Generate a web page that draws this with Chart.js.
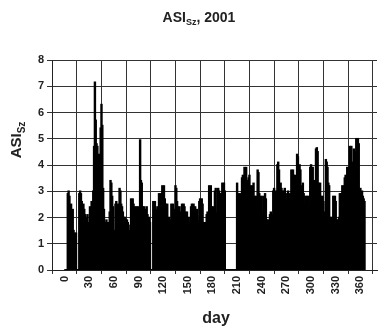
<!DOCTYPE html>
<html><head><meta charset="utf-8">
<script src="https://cdn.jsdelivr.net/npm/chart.js@4.4.1/dist/chart.umd.min.js"></script>
<style>html,body{margin:0;padding:0;background:#fff}#c{display:block}</style>
</head><body>
<canvas id="c" width="378" height="327"></canvas>
<script>
const values = [
0,0,0,2.9,3.0,2.8,2.4,2.5,2.2,2.3,1.5,1.4,1.3,1.4,0,0,0,2.9,3.0,2.9,
2.6,2.2,2.5,2.3,2.1,2.0,1.9,2.1,1.5,1.8,2.4,2.2,2.6,2.4,3.0,4.7,7.15,5.7,4.8,4.7,
3.6,4.4,3.0,5.4,6.3,5.5,3.1,2.3,1.8,1.7,1.9,1.8,1.7,1.8,2.2,3.4,3.3,2.8,2.4,1.4,
1.5,2.5,2.6,2.4,2.5,2.2,3.1,3.0,2.5,2.4,2.2,2.0,1.9,2.0,1.8,1.9,1.8,1.7,1.4,1.5,
2.7,2.6,2.7,2.5,2.3,2.4,2.3,2.4,2.2,2.4,2.3,4.95,3.4,3.3,2.4,2.3,2.4,2.2,2.3,2.4,
2.1,1.9,2.0,1.8,0,0,0,2.6,2.5,2.6,2.3,2.2,2.4,2.3,2.9,2.8,2.9,2.6,3.2,3.1,
3.2,2.7,2.5,2.4,2.5,1.9,2.0,1.8,1.9,2.5,2.4,2.5,2.3,2.2,3.2,3.1,2.6,2.4,2.3,2.4,
2.2,2.0,2.5,2.4,2.5,2.4,2.2,2.1,2.2,2.0,1.8,1.7,2.0,2.4,2.5,2.4,2.5,2.3,2.4,2.2,
2.3,1.9,1.7,2.6,2.7,2.6,2.7,2.5,1.6,1.8,1.7,1.8,2.1,2.2,2.0,3.2,3.1,3.2,2.4,2.3,
2.4,2.2,3.0,3.1,2.1,2.2,3.1,3.0,2.9,2.8,2.9,3.3,3.2,3.3,3.0,0,0,0,0,0,
0,0,0,0,0,0,0,0,0,3.3,2.8,2.9,2.8,2.9,2.6,3.5,3.6,3.0,3.9,3.8,
3.9,3.4,3.3,3.5,3.6,3.2,3.1,3.2,2.9,3.3,2.8,2.7,2.8,2.5,3.8,3.7,2.9,2.8,2.7,2.8,
2.1,2.2,2.8,2.9,2.7,1.9,1.8,1.9,1.8,2.1,2.2,2.0,2.1,3.0,3.1,2.9,3.0,2.8,4.0,4.1,
3.8,3.2,3.3,3.1,3.0,2.9,3.0,3.1,2.7,2.6,2.9,3.0,2.8,2.9,2.7,3.8,3.7,3.8,3.6,3.5,
3.6,3.4,4.4,4.3,3.9,4.0,3.8,3.2,3.1,3.3,2.9,2.5,2.8,2.7,2.8,2.6,2.8,2.4,3.9,4.0,
3.8,3.9,3.4,3.3,3.4,4.6,4.65,4.5,3.3,3.2,3.3,2.8,2.7,2.8,2.6,2.1,2.2,4.2,4.1,3.9,
3.3,3.2,2.0,1.9,2.0,1.9,2.8,2.7,2.8,2.6,1.9,1.8,1.9,2.0,2.9,2.8,2.9,3.2,3.1,3.2,
3.5,3.6,3.4,3.9,3.8,3.9,4.7,4.6,4.7,4.1,4.0,4.6,4.5,4.4,5.0,4.9,5.0,4.8,3.0,3.1,
2.9,3.0,2.8,2.7,2.6
];
const days = values.map((v, i) => i + 1);
const xTicks = [0,30,60,90,120,150,180,210,240,270,300,330,360];
const yTicks = [0,1,2,3,4,5,6,7,8];

const FONT = "'Liberation Sans', Arial, sans-serif";

const textPlugin = {
  id: 'texts',
  afterDraw(chart) {
    const ctx = chart.ctx;
    ctx.save();
    ctx.fillStyle = '#222';
    const big = 'bold 14px ' + FONT, small = 'bold 9px ' + FONT;
    ctx.font = big; const w1 = ctx.measureText('ASI').width;
    ctx.font = small; const w2 = ctx.measureText('Sz').width;
    ctx.font = big; const w3 = ctx.measureText(', 2001').width;
    let x = 199 - (w1 + w2 + w3) / 2, y = 22;
    ctx.textBaseline = 'alphabetic'; ctx.textAlign = 'left';
    ctx.font = big; ctx.fillText('ASI', x, y); x += w1;
    ctx.font = small; ctx.fillText('Sz', x, y + 3); x += w2;
    ctx.font = big; ctx.fillText(', 2001', x, y);
    ctx.translate(21, 140);
    ctx.rotate(-Math.PI / 2);
    const b2 = 'bold 15px ' + FONT, s2 = 'bold 10px ' + FONT;
    ctx.font = b2; const a1 = ctx.measureText('ASI').width;
    ctx.font = s2; const a2 = ctx.measureText('Sz').width;
    let xx = -(a1 + a2) / 2;
    ctx.font = b2; ctx.fillText('ASI', xx, 0); xx += a1;
    ctx.font = s2; ctx.fillText('Sz', xx, 4);
    ctx.restore();
    ctx.save();
    ctx.fillStyle = '#222';
    ctx.font = 'bold 16px ' + FONT;
    ctx.textAlign = 'center'; ctx.textBaseline = 'alphabetic';
    ctx.fillText('day', 216, 323);
    ctx.restore();
  }
};

new Chart(document.getElementById('c'), {
  type: 'bar',
  data: {
    datasets: [{
      data: days.map((d, i) => ({ x: d, y: values[i] })),
      backgroundColor: '#000',
      borderWidth: 0,
      inflateAmount: 0.8,
      barPercentage: 1.0,
      categoryPercentage: 1.0
    }]
  },
  options: {
    responsive: false,
    animation: false,
    events: [],
    layout: { padding: { top: 60, right: 1, left: 0, bottom: 0 } },
    plugins: { legend: { display: false }, tooltip: { enabled: false }, title: { display: false } },
    scales: {
      x: {
        type: 'linear', min: 0, max: 365,
        afterBuildTicks: (s) => { s.ticks = xTicks.map(v => ({ value: v })); },
        afterFit: (s) => { s.height = 57; },
        ticks: {
          minRotation: 90, maxRotation: 90, autoSkip: false,
          color: '#222', font: { family: FONT, size: 11, weight: 'bold' }, padding: 2
        },
        grid: { color: '#333', lineWidth: 1, drawTicks: true, tickLength: 4, tickColor: '#333' },
        border: { color: '#222', width: 1 }
      },
      y: {
        min: 0, max: 8,
        afterBuildTicks: (s) => { s.ticks = yTicks.map(v => ({ value: v })); },
        afterFit: (s) => { s.width = 52; },
        ticks: { color: '#222', font: { family: FONT, size: 11, weight: 'bold' }, padding: 3 },
        grid: { color: '#333', lineWidth: 1, drawTicks: true, tickLength: 5, tickColor: '#333' },
        border: { color: '#222', width: 1 }
      }
    }
  },
  plugins: [textPlugin]
});
</script>
</body></html>
